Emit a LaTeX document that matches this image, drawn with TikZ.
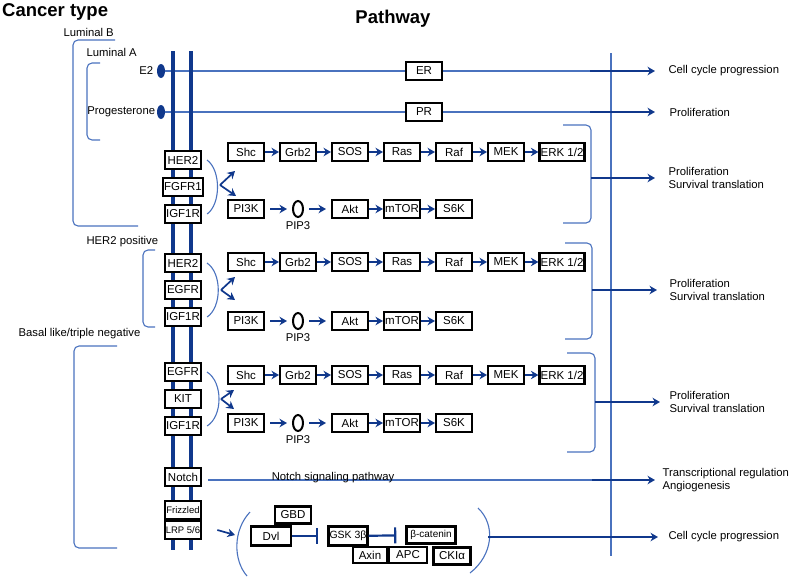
\documentclass[tikz,border=0pt]{standalone}
\usepackage{fontspec}
\setmainfont{Liberation Sans}
\usepackage{tikz}
\usetikzlibrary{shapes.geometric, arrows, arrows.meta, positioning}
\definecolor{pathblue}{RGB}{16,56,140}
\definecolor{linkblue}{RGB}{74,114,190}
\tikzstyle{box} = [rectangle, draw=black, line width=2.4pt, fill=white, minimum width=35.6pt, minimum height=17.6pt, inner sep=1pt, font=\fontsize{11.5}{13}\selectfont]
\tikzstyle{ligand} = [ellipse, fill=pathblue, minimum width=8pt, minimum height=14pt, inner sep=0pt]
\tikzstyle{pip} = [ellipse, draw=black, line width=2pt, fill=white, minimum width=10pt, minimum height=16pt, inner sep=0pt]
\tikzstyle{txt} = [align=left]
\tikzstyle{heading} = [font=\bfseries\fontsize{18.5}{20}\selectfont]
\tikzstyle{arrow} = [line width=1.7pt, -{Stealth[length=7.5pt, width=8.5pt]}, pathblue]
\tikzstyle{inhibit} = [line width=2.2pt, -{Bar[width=16pt]}, pathblue]
\tikzstyle{link} = [line width=1.1pt, linkblue]
\tikzstyle{bracket} = [line width=1.1pt, linkblue, rounded corners=5pt]
\tikzstyle{membrane} = [line width=3.2pt, pathblue]

\begin{document}
\begin{tikzpicture}[x=1pt, y=-1pt, node distance=52pt, font=\fontsize{11.3}{13.5}\selectfont]
\useasboundingbox (0,0) rectangle (792,576);

% headings
\node (cancer) [heading, anchor=west, inner sep=1pt] at (1,12) {Cancer type};
\node (pathway) [heading] at (393,19) {Pathway};

% cancer types
\node (lumb) [txt, anchor=west] at (60,32) {Luminal B};
\node (luma) [txt, anchor=west] at (83,52) {Luminal A};
\node (herpos) [txt, anchor=west] at (83,242) {HER2 positive};
\node (basal) [txt, anchor=west] at (15,334) {Basal like/triple negative};
\draw [bracket] (115,40) -- (73,40) -- (73,226) -- (138,226);
\draw [bracket] (100,63) -- (87,63) -- (87,140) -- (100,140);
\draw [bracket] (155,250) -- (143,250) -- (143,327) -- (155,327);
\draw [bracket] (117,346) -- (74,346) -- (74,548) -- (117,548);

% hormones
\node (e2) [ligand, label=left:E2] at (161,71) {};
\node (prog) [ligand, label={[inner sep=1.5pt]left:Progesterone}] at (161,112) {};
\node (er) [box] at (424,71) {ER};
\node (pr) [box] at (424,112) {PR};
\coordinate (j1) at (590,71);
\coordinate (j2) at (590,112);
\coordinate (out1) at (655,71);
\coordinate (out2) at (655,112);
\draw [link] (e2) -- (er);
\draw [link] (er) -- (j1);
\draw [link] (prog) -- (pr);
\draw [link] (pr) -- (j2);

% right line
\draw [link] (611,53) -- (611,556);

% membrane
\draw [membrane] (173,51) -- (173,550);
\draw [membrane] (191,51) -- (191,550);

\draw [arrow] (j1) -- (out1);
\draw [arrow] (j2) -- (out2);
\node (res1) [txt, right=10pt of out1] {Cell cycle progression};
\node (res2) [txt, right=11pt of out2] {Proliferation};

% receptors
\node (her1) [box] at (183,160) {HER2};
\node (fgfr1) [box, below of=her1, node distance=27pt] {FGFR1};
\node (igf1) [box, below of=fgfr1, node distance=27pt] {IGF1R};
\node (her2) [box] at (183,263) {HER2};
\node (egfr2) [box, below of=her2, node distance=27pt] {EGFR};
\node (igf2) [box, below of=egfr2, node distance=27pt] {IGF1R};
\node (egfr3) [box] at (183,372) {EGFR};
\node (kit3) [box, below of=egfr3, node distance=27pt] {KIT};
\node (igf3) [box, below of=kit3, node distance=27pt] {IGF1R};
\node (notch) [box] at (183,477) {Notch};
\node (fzd) [box, font=\fontsize{9.5}{11}\selectfont] at (183,510) {Frizzled};
\node (lrp) [box, font=\fontsize{9.5}{11}\selectfont, below of=fzd, node distance=20pt] {LRP 5/6};

% row 1
\node (shc1) [box] at (246,152) {Shc};
\node (grb1) [box, right of=shc1] {Grb2};
\node (sos1) [box, right of=grb1] {SOS};
\node (ras1) [box, right of=sos1] {Ras};
\node (raf1) [box, right of=ras1] {Raf};
\node (mek1) [box, right of=raf1] {MEK};
\node (erk1) [box, right of=mek1, xshift=4pt] {ERK 1/2};
\node (pi1) [box] at (246,209) {PI3K};
\node (pip1) [pip, right of=pi1, label=below:PIP3] {};
\node (akt1) [box, right of=pip1] {Akt};
\node (mtor1) [box, right of=akt1] {mTOR};
\node (s6k1) [box, right of=mtor1] {S6K};
\draw [arrow] (shc1) -- (grb1);
\draw [arrow] (grb1) -- (sos1);
\draw [arrow] (sos1) -- (ras1);
\draw [arrow] (ras1) -- (raf1);
\draw [arrow] (raf1) -- (mek1);
\draw [arrow] (mek1) -- (erk1);
\draw [arrow, shorten <=5pt, shorten >=5pt] (pi1) -- (pip1);
\draw [arrow, shorten <=5pt, shorten >=5pt] (pip1) -- (akt1);
\draw [arrow] (akt1) -- (mtor1);
\draw [arrow] (mtor1) -- (s6k1);
\draw [link] ([xshift=5pt]her1.east) .. controls (221,170) and (221,204) .. ([xshift=5pt]igf1.east);
\coordinate (fork1) at (220,185);
\draw [arrow] (fork1) -- ++(15,-14);
\draw [arrow] (fork1) -- ++(16,11);
\draw [bracket] (563,125) -- (591,125) -- (591,223) -- (563,223);
\coordinate (b1) at (591,178);
\coordinate (out3) at (655,178);
\draw [arrow] (b1) -- (out3);
\node (res3) [txt, right=10pt of out3] {Proliferation\\Survival translation};

% row 2
\node (shc2) [box] at (246,262) {Shc};
\node (grb2) [box, right of=shc2] {Grb2};
\node (sos2) [box, right of=grb2] {SOS};
\node (ras2) [box, right of=sos2] {Ras};
\node (raf2) [box, right of=ras2] {Raf};
\node (mek2) [box, right of=raf2] {MEK};
\node (erk2) [box, right of=mek2, xshift=4pt] {ERK 1/2};
\node (pi2) [box] at (246,321) {PI3K};
\node (pip2) [pip, right of=pi2, label=below:PIP3] {};
\node (akt2) [box, right of=pip2] {Akt};
\node (mtor2) [box, right of=akt2] {mTOR};
\node (s6k2) [box, right of=mtor2] {S6K};
\draw [arrow] (shc2) -- (grb2);
\draw [arrow] (grb2) -- (sos2);
\draw [arrow] (sos2) -- (ras2);
\draw [arrow] (ras2) -- (raf2);
\draw [arrow] (raf2) -- (mek2);
\draw [arrow] (mek2) -- (erk2);
\draw [arrow, shorten <=5pt, shorten >=5pt] (pi2) -- (pip2);
\draw [arrow, shorten <=5pt, shorten >=5pt] (pip2) -- (akt2);
\draw [arrow] (akt2) -- (mtor2);
\draw [arrow] (mtor2) -- (s6k2);
\draw [link] ([xshift=5pt]her2.east) .. controls (222,273) and (222,307) .. ([xshift=5pt]igf2.east);
\coordinate (fork2) at (221,290);
\draw [arrow] (fork2) -- ++(14,-13);
\draw [arrow] (fork2) -- ++(14,10);
\draw [bracket] (565,243) -- (592,243) -- (592,339) -- (565,339);
\coordinate (b2) at (592,290);
\coordinate (out4) at (657,290);
\draw [arrow] (b2) -- (out4);
\node (res4) [txt, right=9pt of out4] {Proliferation\\Survival translation};

% row 3
\node (shc3) [box] at (246,375) {Shc};
\node (grb3) [box, right of=shc3] {Grb2};
\node (sos3) [box, right of=grb3] {SOS};
\node (ras3) [box, right of=sos3] {Ras};
\node (raf3) [box, right of=ras3] {Raf};
\node (mek3) [box, right of=raf3] {MEK};
\node (erk3) [box, right of=mek3, xshift=4pt] {ERK 1/2};
\node (pi3) [box] at (246,423) {PI3K};
\node (pip3) [pip, right of=pi3, label=below:PIP3] {};
\node (akt3) [box, right of=pip3] {Akt};
\node (mtor3) [box, right of=akt3] {mTOR};
\node (s6k3) [box, right of=mtor3] {S6K};
\draw [arrow] (shc3) -- (grb3);
\draw [arrow] (grb3) -- (sos3);
\draw [arrow] (sos3) -- (ras3);
\draw [arrow] (ras3) -- (raf3);
\draw [arrow] (raf3) -- (mek3);
\draw [arrow] (mek3) -- (erk3);
\draw [arrow, shorten <=5pt, shorten >=5pt] (pi3) -- (pip3);
\draw [arrow, shorten <=5pt, shorten >=5pt] (pip3) -- (akt3);
\draw [arrow] (akt3) -- (mtor3);
\draw [arrow] (mtor3) -- (s6k3);
\draw [link] ([xshift=5pt]egfr3.east) .. controls (223,382) and (223,416) .. ([xshift=5pt]igf3.east);
\coordinate (fork3) at (221,399);
\draw [arrow] (fork3) -- ++(13,-9);
\draw [arrow] (fork3) -- ++(13,10);
\draw [bracket] (567,353) -- (595,353) -- (595,452) -- (567,452);
\coordinate (b3) at (595,402);
\coordinate (out5) at (660,402);
\draw [arrow] (b3) -- (out5);
\node (res5) [txt, right=6pt of out5] {Proliferation\\Survival translation};

% notch
\coordinate (j6) at (592,480);
\coordinate (out6) at (655,480);
\draw [link] ([xshift=6pt, yshift=-3pt]notch.east) -- (j6);
\node (notchtxt) at (333,478) {Notch signaling pathway};
\draw [arrow] (j6) -- (out6);
\node (res6) [txt, right=4pt of out6] {Transcriptional regulation\\Angiogenesis};

% wnt
\coordinate (wnt) at (235,535);
\draw [arrow] ([xshift=15pt]lrp.east) -- (wnt);
\draw [link] (250,512) .. controls (233,530) and (233,560) .. (247,576);
\node (gbd) [box, minimum height=17pt] at (293,515) {GBD};
\node (dvl) [box, minimum width=40pt, minimum height=19pt] at (271,536) {Dvl};
\node (gsk) [box, font=\fontsize{10.5}{12}\selectfont, minimum width=35pt, minimum height=19pt] at (348,536) {GSK 3β};
\node (bcat) [box, font=\fontsize{10}{11}\selectfont, minimum width=49pt, minimum height=17pt] at (431,535) {β-catenin};
\node (axin) [box, minimum width=34pt, minimum height=16pt] at (370,555) {Axin};
\node (apc) [box, minimum width=38pt, minimum height=16pt] at (408,555) {APC};
\node (cki) [box, minimum width=37pt, minimum height=17pt] at (452,556) {CKIα};
\draw [inhibit, shorten >=9pt] (dvl) -- (gsk);
\draw [inhibit, shorten >=9pt] (gsk) -- (bcat);
\draw [link] (478,508) .. controls (496,525) and (493,555) .. (470,573);
\coordinate (wntend) at (488,537);
\coordinate (out7) at (658,537);
\draw [arrow] (wntend) -- (out7);
\node (res7) [txt, right=7pt of out7] {Cell cycle progression};
\end{tikzpicture}
\end{document}
